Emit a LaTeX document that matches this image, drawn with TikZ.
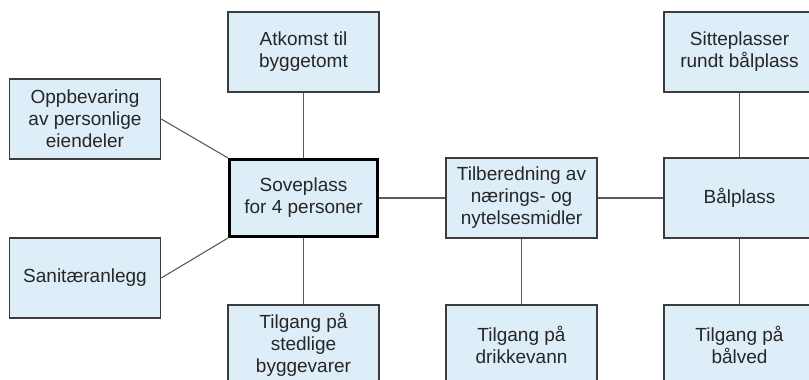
\documentclass[tikz,border=0pt]{standalone}
\usepackage{fontspec}
\setmainfont{Liberation Sans}
\definecolor{boxfill}{RGB}{221,238,248}
\definecolor{boxline}{RGB}{60,60,60}
\definecolor{conn}{RGB}{90,90,90}
\begin{document}
\begin{tikzpicture}[x=1pt,y=-1pt,
  box/.style={draw=boxline,line width=1.4pt,fill=boxfill,minimum width=151pt,minimum height=80pt,
    inner sep=0pt,align=center,font=\fontsize{19}{22}\selectfont,text=black!85},
  mainbox/.style={box,draw=black,line width=3.2pt,minimum width=148pt,minimum height=77pt},
  link/.style={draw=conn,line width=1.1pt}]
\useasboundingbox (0,0) rectangle (809,380);
\clip (0,0) rectangle (809,380);
\node[box] (atk) at (303.5,52) {Atkomst til\\byggetomt};
\node[box] (opp) at (85,119) {Oppbevaring\\av personlige\\eiendeler};
\node[mainbox] (sove) at (303.5,198) {Soveplass\\for 4 personer};
\node[box] (san) at (85,278) {Sanitæranlegg};
\node[box] (sted) at (303.5,345) {Tilgang på\\stedlige\\byggevarer};
\node[box] (tilb) at (521.5,198) {Tilberedning av\\nærings- og\\nytelsesmidler};
\node[box] (sitt) at (739.5,52) {Sitteplasser\\rundt bålplass};
\node[box] (bal) at (739.5,198) {Bålplass};
\node[box] (drikk) at (521.5,345) {Tilgang på\\drikkevann};
\node[box] (ved) at (739.5,345) {Tilgang på\\bålved};
\draw[link] (atk.south) -- (sove.north);
\draw[link] (opp.east) -- (sove.north west);
\draw[link] (san.east) -- (sove.south west);
\draw[link] (sove.south) -- (sted.north);
\draw[link] (sove.east) -- (tilb.west);
\draw[link] (tilb.east) -- (bal.west);
\draw[link] (tilb.south) -- (drikk.north);
\draw[link] (sitt.south) -- (bal.north);
\draw[link] (bal.south) -- (ved.north);
\end{tikzpicture}
\end{document}
